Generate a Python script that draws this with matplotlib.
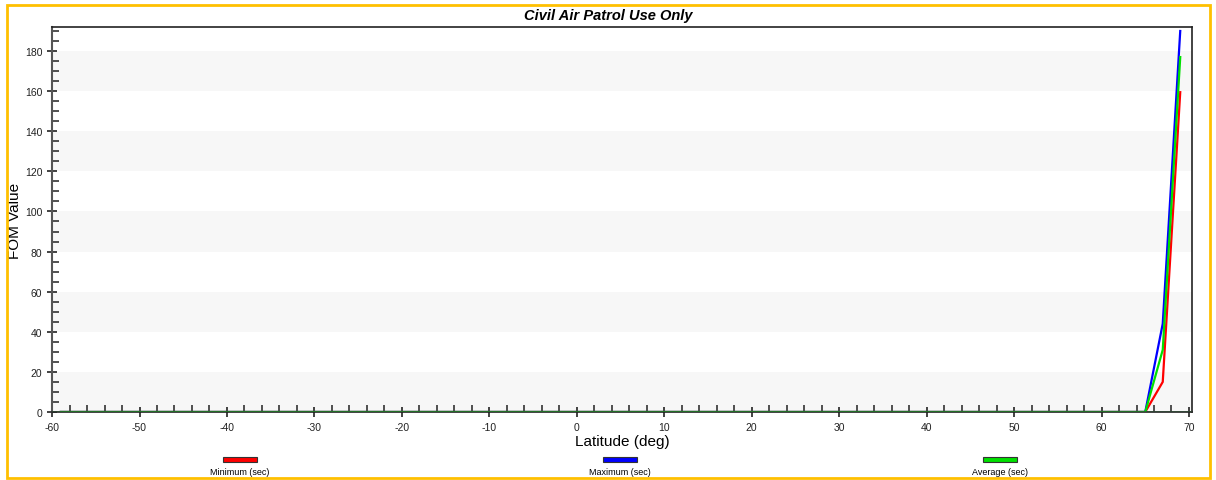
import numpy as np
import matplotlib
matplotlib.use("Agg")
import matplotlib.pyplot as plt
from matplotlib.patches import Rectangle
from matplotlib.ticker import MultipleLocator

plt.rcParams['font.family'] = ['Liberation Sans', 'DejaVu Sans']
plt.rcParams['axes.unicode_minus'] = False

# FOM por latitud (cada 2 grados)
latitud = np.arange(-59, 70, 2)
ceros = [0.0] * (len(latitud) - 2)
minimo = ceros + [15.0, 159.5]
maximo = ceros + [44.0, 190.0]
promedio = ceros + [31.0, 177.0]

series = ["Minimum (sec)", "Maximum (sec)", "Average (sec)"]
colores = ["#ff0000", "#0000ff", "#00e000"]
valores = [minimo, maximo, promedio]

fig = plt.figure(figsize=(12.16, 4.81), dpi=100)
ax = fig.add_axes([0.0428, 0.1414, 0.9375, 0.8004])

# bandas grises cada 40 unidades
for y0 in range(0, 180, 40):
    ax.axhspan(y0, y0 + 20, color="#f7f7f7", zorder=0, lw=0)

for nombre, c, v in zip(series, colores, valores):
    ax.plot(latitud, v, color=c, lw=1.6, zorder=3)

ax.axhline(0, color="#2f4a35", lw=1.8, zorder=4)

ax.set_xlim(-60, 70.35)
ax.set_ylim(0, 192)
ax.xaxis.set_major_locator(MultipleLocator(10))
ax.xaxis.set_minor_locator(MultipleLocator(2))
ax.yaxis.set_major_locator(MultipleLocator(20))
ax.yaxis.set_minor_locator(MultipleLocator(5))
ax.tick_params(which="major", direction="inout", length=7, width=1.2,
               labelsize=7.5, colors="#222222")
ax.tick_params(which="minor", direction="in", length=5, width=1.2, colors="#333333")
for s in ax.spines.values():
    s.set_linewidth(1.2)
    s.set_color("#222222")
ax.spines["left"].set_color("#555555")
ax.spines["left"].set_linewidth(1.5)

ax.set_xlabel("Latitude (deg)", fontsize=11, labelpad=2)
ax.set_ylabel("FOM Value", fontsize=11, labelpad=2)
fig.text(0.5, 1 - 16 / 481, "Civil Air Patrol Use Only", ha="center", va="center",
         fontsize=10.5, fontweight="bold", fontstyle="italic")

# leyenda debajo del eje
centros = [240, 620, 1000]
W, H = 1216, 481
for cx, nombre, c in zip(centros, series, colores):
    fig.add_artist(Rectangle(((cx - 17) / W, 1 - 463 / H), 34 / W, 5 / H,
                             transform=fig.transFigure, facecolor=c,
                             edgecolor="#333333", lw=0.8))
    fig.text(cx / W, 1 - 473 / H, nombre, ha="center", va="center", fontsize=6.5)

# marco exterior
fig.add_artist(Rectangle((7 / W, 1 - 479 / H), 1203 / W, 473 / H,
                         transform=fig.transFigure, fill=False,
                         edgecolor="#ffc000", lw=2))

fig.savefig("out.png", dpi=100)
